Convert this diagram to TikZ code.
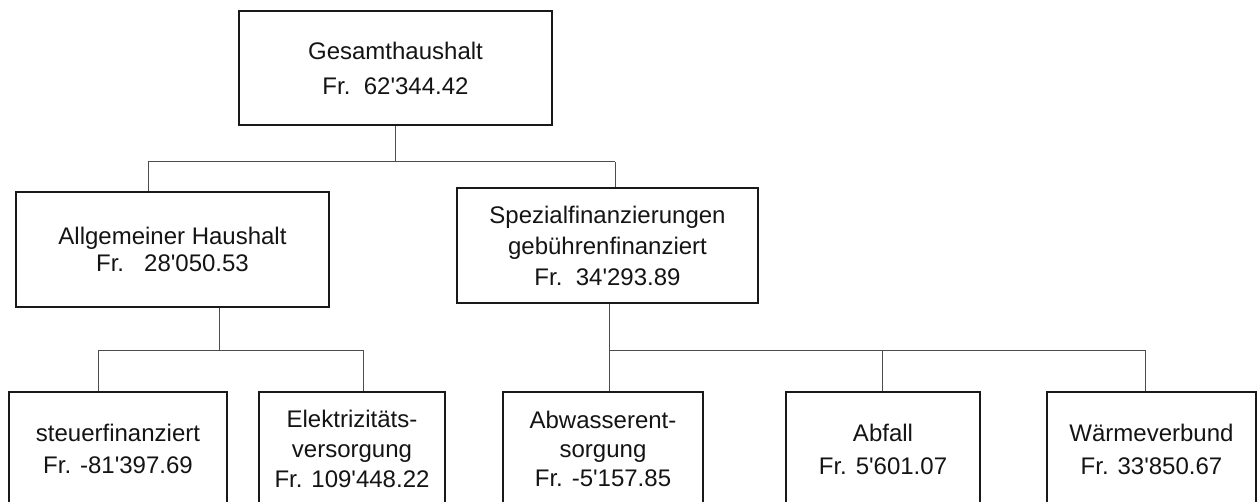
\documentclass[tikz,border=0pt]{standalone}
\usepackage{fontspec}
\setmainfont{Liberation Sans}[Ligatures=TeXOff]
\begin{document}
\begin{tikzpicture}[x=0.5pt,y=-0.5pt,
  box/.style={draw=black!90,line width=1.1pt,inner sep=0pt,align=center,text=black!92},
  conn/.style={draw=black!70,line width=0.5pt}]
\useasboundingbox (0,0) rectangle (1258,502);
% boxes
\node[box,minimum width=156.5pt,minimum height=57pt,font=\fontsize{12}{17.5}\selectfont] (gesamt) at (395.5,68) {Gesamthaushalt\\Fr.\ \ 62'344.42};
\node[box,minimum width=156.5pt,minimum height=57.5pt,font=\fontsize{12}{13.5}\selectfont] (allg) at (172.5,249.5) {Allgemeiner Haushalt\\Fr.\ \ \ 28'050.53};
\node[box,minimum width=150.5pt,minimum height=57.5pt,font=\fontsize{12}{15.5}\selectfont] (spez) at (607.5,245.5) {Spezialfinanzierungen\\geb\"uhrenfinanziert\\Fr.\ \ 34'293.89};
\node[box,minimum width=109pt,minimum height=57pt,font=\fontsize{12}{16}\selectfont] (steuer) at (118,449) {steuerfinanziert\\Fr. -81'397.69};
\node[box,minimum width=93pt,minimum height=57pt,font=\fontsize{12}{15}\selectfont] (elektr) at (352,449) {Elektrizit\"ats-\\versorgung\\Fr. 109'448.22};
\node[box,minimum width=100pt,minimum height=57pt,font=\fontsize{12}{14.5}\selectfont] (abw) at (603,449) {Abwasserent-\\sorgung\\Fr. -5'157.85};
\node[box,minimum width=97pt,minimum height=57pt,font=\fontsize{12}{16.5}\selectfont] (abfall) at (883,449) {Abfall\\Fr. 5'601.07};
\node[box,minimum width=104.5pt,minimum height=57pt,font=\fontsize{12}{16.5}\selectfont] (waerme) at (1151.5,449) {W\"armeverbund\\Fr. 33'850.67};
% connectors
\coordinate (b1l) at (148,162);
\coordinate (b1r) at (615,162);
\draw[conn] (gesamt.south) -- (gesamt.south |- b1l);
\draw[conn] (b1l) -- (b1r);
\draw[conn] (b1l) -- (b1l |- allg.north);
\draw[conn] (b1r) -- (b1r |- spez.north);
\coordinate (b2m) at (219,350);
\coordinate (b2l) at (98,350);
\coordinate (b2r) at (363,350);
\draw[conn] (b2m |- allg.south) -- (b2m);
\draw[conn] (b2l) -- (b2r);
\draw[conn] (b2l) -- (b2l |- steuer.north);
\draw[conn] (b2r) -- (b2r |- elektr.north);
\coordinate (b3l) at (609,350);
\coordinate (b3m) at (882,350);
\coordinate (b3r) at (1145,350);
\draw[conn] (b3l |- spez.south) -- (b3l |- abw.north);
\draw[conn] (b3l) -- (b3r);
\draw[conn] (b3m) -- (b3m |- abfall.north);
\draw[conn] (b3r) -- (b3r |- waerme.north);
\end{tikzpicture}
\end{document}
